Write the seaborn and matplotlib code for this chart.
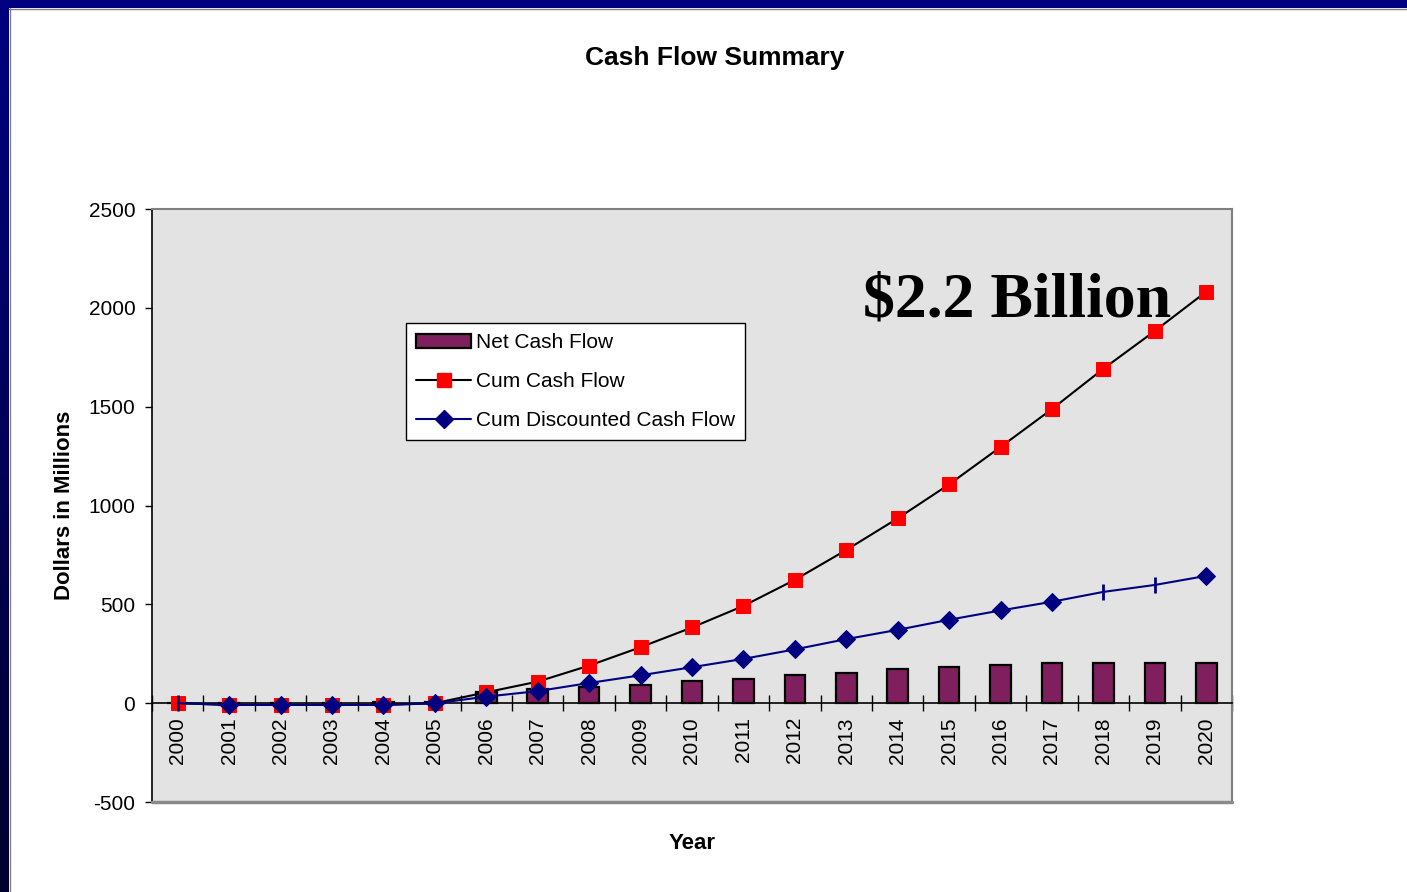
import numpy as np
import pandas as pd
import matplotlib
matplotlib.use("Agg")
import matplotlib.pyplot as plt
from matplotlib.patches import Rectangle
from matplotlib.lines import Line2D
from matplotlib.colors import LinearSegmentedColormap
from matplotlib.ticker import MultipleLocator, FixedLocator
import seaborn as sns

# ---- data (millions of dollars) ----
years = [str(y) for y in range(2000, 2021)]
net_cash_flow = [0, -8, 0, 0, 6, 8, 55, 72, 80, 91, 111, 123, 141, 151,
                 172, 182, 193, 202, 202, 202, 202]
cum_cash_flow = [0, -9, -9, -9, -9, 0, 55, 109, 190, 283, 383, 492, 624,
                 775, 935, 1107, 1296, 1488, 1692, 1883, 2082]
cum_discounted = [0, -9, -9, -9, -9, -1, 33, 61, 102, 141, 182, 224, 272,
                  324, 371, 422, 469, 513, 563, 598, 644]
# points of the discounted series drawn with a tick instead of a diamond
tick_points = [0, 18, 19]

series_labels = ["Net Cash Flow", "Cum Cash Flow", "Cum Discounted Cash Flow"]
headline = "$2.2 Billion"

sns.set_style("white")
plt.rcParams["font.family"] = ["Liberation Sans", "DejaVu Sans"]
plt.rcParams["text.color"] = "black"
plt.rcParams["axes.labelcolor"] = "black"
plt.rcParams["xtick.color"] = "black"
plt.rcParams["ytick.color"] = "black"
plt.rcParams["axes.unicode_minus"] = False

BAR_COLOR = "#801F5E"
NAVY = "#000080"

fig = plt.figure(figsize=(14.07, 8.92), dpi=100)
fig.patch.set_facecolor("white")

# slide-style frame: navy band on top, dark gradient strip on the left
fig.patches.append(Rectangle((0, 1 - 8 / 892), 1, 8 / 892, transform=fig.transFigure,
                             facecolor=NAVY, edgecolor="none", zorder=0))
fig.lines.append(Line2D([9 / 1407, 1], [1 - 8.5 / 892, 1 - 8.5 / 892],
                        transform=fig.transFigure, color="#808080", linewidth=1.0))
fig.lines.append(Line2D([9.5 / 1407, 9.5 / 1407], [0, 1 - 8 / 892],
                        transform=fig.transFigure, color="#808080", linewidth=1.0))
strip = fig.add_axes([0, 0, 9 / 1407, 1])
grad = np.linspace(0, 1, 256).reshape(-1, 1)
cmap = LinearSegmentedColormap.from_list("strip", [NAVY, "#00002E"])
strip.imshow(grad, aspect="auto", cmap=cmap, extent=(0, 1, 0, 1))
strip.set_axis_off()

ax = fig.add_axes([152 / 1407, 1 - 802 / 892, 1080 / 1407, 593 / 892])
ax.set_facecolor("#E3E3E3")

df = pd.DataFrame({"Year": years, "Net": net_cash_flow})
sns.barplot(data=df, x="Year", y="Net", ax=ax, color=BAR_COLOR, saturation=1,
            edgecolor="black", linewidth=1.6, width=0.4, zorder=2)

pos = np.arange(len(years))
sns.lineplot(x=pos, y=cum_cash_flow, ax=ax, color="black", linewidth=1.5,
             marker="s", markersize=10, markerfacecolor="#FF0000",
             markeredgecolor="#FF0000", sort=False, zorder=3)

diamond_idx = [i for i in range(len(years)) if i not in tick_points]
sns.lineplot(x=pos, y=cum_discounted, ax=ax, color=NAVY, linewidth=1.5,
             marker="D", markersize=9, markerfacecolor=NAVY,
             markeredgecolor=NAVY, markevery=diamond_idx, sort=False, zorder=4)
ax.plot(pos[tick_points], np.array(cum_discounted)[tick_points], linestyle="none",
        marker="|", markersize=12, markeredgewidth=2, color=NAVY, zorder=5)

ax.set_xlim(-0.5, len(years) - 0.5)
ax.set_ylim(-500, 2500)

# y axis
ax.yaxis.set_major_locator(MultipleLocator(500))
ax.tick_params(axis="y", direction="out", length=5, width=1, color="black",
               pad=7, labelsize=15, left=True)

# category axis runs along zero; ticks sit between categories
ax.spines["bottom"].set_position(("data", 0))
ax.spines["bottom"].set_color("black")
ax.spines["bottom"].set_linewidth(1.2)
ax.spines["bottom"].set_zorder(2.5)
ax.xaxis.set_minor_locator(FixedLocator(np.arange(-0.5, len(years), 1.0)))
ax.tick_params(axis="x", which="major", length=0, pad=10, labelsize=15,
               labelrotation=90, bottom=True)
ax.tick_params(axis="x", which="minor", direction="inout", length=12, width=1,
               color="black", bottom=True)
for lbl in ax.get_xticklabels():
    lbl.set_va("top")

ax.spines["left"].set_color("black")
ax.spines["left"].set_linewidth(1.2)
for s in ["top", "right"]:
    ax.spines[s].set_color("#7F7F7F")
    ax.spines[s].set_linewidth(1.5)
ax.plot([0, 1], [0, 0], transform=ax.transAxes, color="#8A8A8A", linewidth=2.5,
        clip_on=False, zorder=6)

ax.set_xlabel("Year", fontsize=16, fontweight="bold", labelpad=0)
ax.xaxis.set_label_coords(0.5, -0.053)
ax.set_ylabel("Dollars in Millions", fontsize=16, fontweight="bold")
ax.yaxis.set_label_coords(-0.071, 0.5)

fig.text(715 / 1407, 1 - 58 / 892, "Cash Flow Summary", ha="center", va="center",
         fontsize=19, fontweight="bold")

ax.text(13.32, 1955, headline, ha="left", va="baseline",
        fontsize=46, fontweight="bold", family=["Liberation Serif", "DejaVu Serif"],
        zorder=7)

handles = [
    Rectangle((0, 0), 1, 1, facecolor=BAR_COLOR, edgecolor="black", linewidth=1.6),
    Line2D([], [], color="black", linewidth=1.5, marker="s", markersize=10,
           markerfacecolor="#FF0000", markeredgecolor="#FF0000"),
    Line2D([], [], color=NAVY, linewidth=1.5, marker="D", markersize=9,
           markerfacecolor=NAVY, markeredgecolor=NAVY),
]
leg = ax.legend(handles, series_labels, loc="upper left",
                bbox_to_anchor=(0.2352, 0.8078), borderaxespad=0, fontsize=15,
                frameon=True, fancybox=False, framealpha=1, edgecolor="black",
                handlelength=2.6, handletextpad=0.25, labelspacing=0.95,
                borderpad=0.5)
leg.get_frame().set_linewidth(1.0)
leg.set_zorder(8)

fig.savefig("out.png", dpi=100, facecolor="white")
